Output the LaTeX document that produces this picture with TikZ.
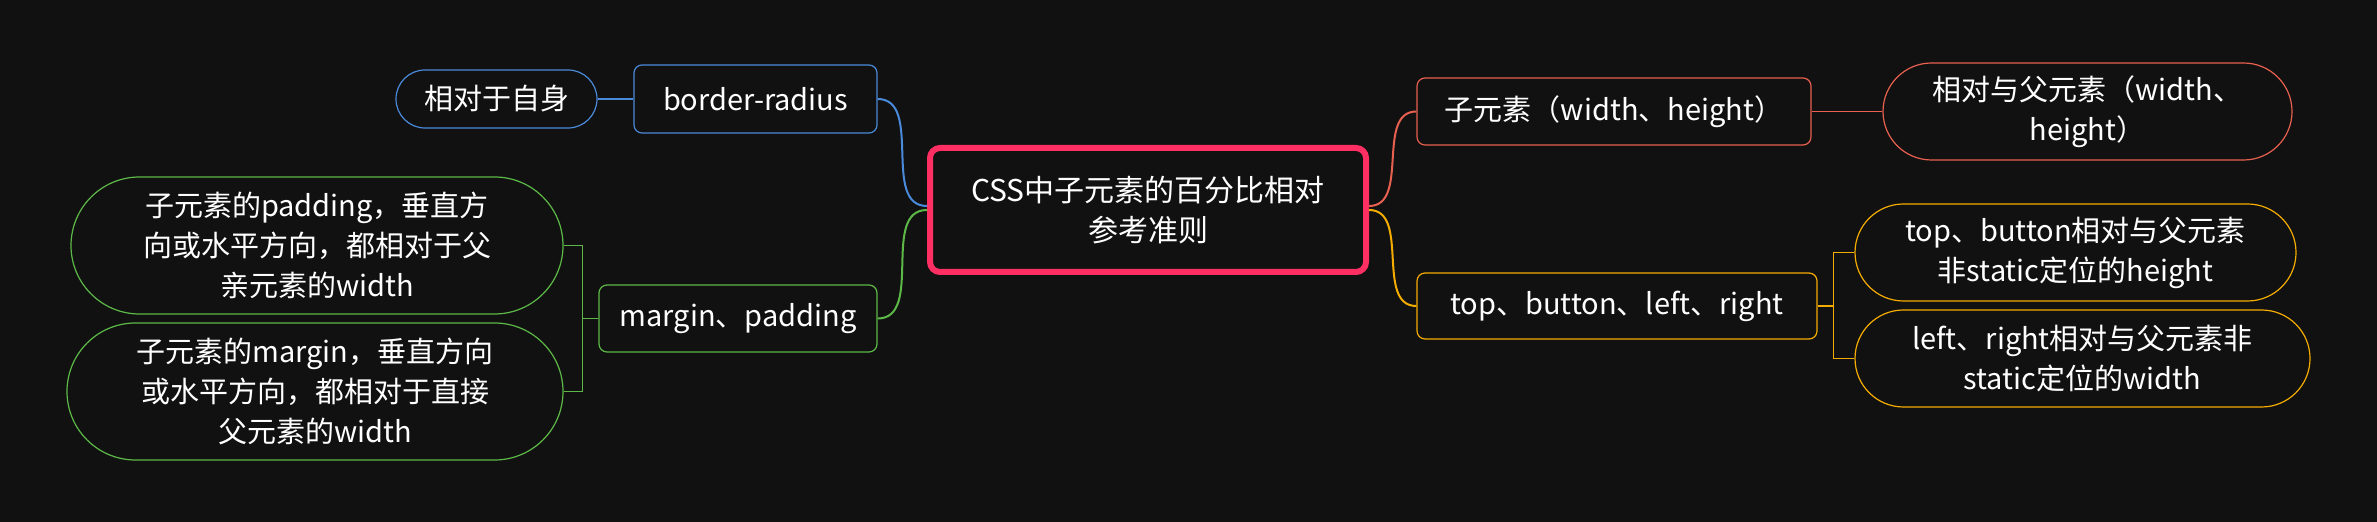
\documentclass[tikz,border=0pt]{standalone}
\usepackage{fontspec}
\setmainfont{Noto Sans CJK SC}
\usepackage{tikz}
\usetikzlibrary{shapes.misc,positioning}
\usepackage{xcolor}
\definecolor{mmbg}{RGB}{17,17,17}
\definecolor{mmroot}{RGB}{255,46,99}
\definecolor{mmblue}{RGB}{74,138,219}
\definecolor{mmgreen}{RGB}{92,185,71}
\definecolor{mmred}{RGB}{232,96,79}
\definecolor{mmorange}{RGB}{245,172,0}
\tikzstyle{topic} = [rectangle, rounded corners=4pt, draw, line width=0.6pt, fill=mmbg, text=white, align=center, inner sep=2pt, font=\fontsize{14.5pt}{20pt}\selectfont]
\tikzstyle{leaf} = [rounded rectangle, draw, line width=0.6pt, fill=mmbg, text=white, align=center, inner sep=2pt, font=\fontsize{14.5pt}{20pt}\selectfont]
\tikzstyle{link} = [line width=1pt]
\tikzstyle{bracket} = [line width=0.6pt]

\begin{document}
\begin{tikzpicture}[x=0.5pt, y=-0.5pt]
\fill[mmbg] (0,0) rectangle (2377,522);
\useasboundingbox (0,0) rectangle (2377,522);

% root
\node[rectangle, rounded corners=5pt, draw=mmroot, line width=3pt, fill=mmbg, text=white, align=center,
  minimum width=218pt, minimum height=62pt, font=\fontsize{15pt}{20pt}\selectfont] (root) at (1148,210)
  {CSS中子元素的百分比相对\\参考准则};

% border-radius
\node[topic, draw=mmblue, minimum width=121.5pt, minimum height=34pt] (br) at (755.5,99) {border-radius};
\node[leaf, draw=mmblue, minimum width=104.5pt, minimum height=29pt] (brself) at (496.5,99) {相对于自身};
\draw[link, mmblue] ([yshift=2pt]root.west) to[out=180, in=0] (br.east);
\draw[bracket, mmblue] (br.west) -- (brself.east);

% margin, padding
\node[topic, draw=mmgreen, minimum width=139pt, minimum height=33.5pt] (mp) at (738,318.5) {margin、padding};
\node[leaf, draw=mmgreen, minimum width=250pt, minimum height=68.5pt] (mp1) at (317,245.5)
  {子元素的padding，垂直方\\向或水平方向，都相对于父\\亲元素的width};
\node[leaf, draw=mmgreen, minimum width=252pt, minimum height=68.5pt] (mp2) at (315,391.5)
  {子元素的margin，垂直方向\\或水平方向，都相对于直接\\父元素的width};
\draw[link, mmgreen] ([yshift=0pt]root.west) to[out=180, in=0] (mp.east);
\draw[bracket, mmgreen] (mp.west) -- ++(-16,0) |- (mp1.east);
\draw[bracket, mmgreen] (mp.west) -- ++(-16,0) |- (mp2.east);

% width, height
\node[topic, draw=mmred, minimum width=197pt, minimum height=33.5pt] (ch) at (1614,111.5) {子元素（width、height）};
\node[leaf, draw=mmred, minimum width=208.5pt, minimum height=48.5pt] (ch1) at (2087.5,111.5)
  {相对与父元素（width、\\height）};
\draw[link, mmred] ([yshift=2pt]root.east) to[out=0, in=180] (ch.west);
\draw[bracket, mmred] (ch.east) -- (ch1.west);

% top, button, left, right
\node[topic, draw=mmorange, minimum width=200pt, minimum height=33pt] (tb) at (1617,306) {top、button、left、right};
\node[leaf, draw=mmorange, minimum width=224.5pt, minimum height=48.5pt] (tb1) at (2075.5,252.5)
  {top、button相对与父元素\\非static定位的height};
\node[leaf, draw=mmorange, minimum width=231.5pt, minimum height=48.5pt] (tb2) at (2082.5,358.5)
  {left、right相对与父元素非\\static定位的width};
\draw[link, mmorange] ([yshift=0pt]root.east) to[out=0, in=180] (tb.west);
\draw[bracket, mmorange] (tb.east) -- ++(16,0) |- (tb1.west);
\draw[bracket, mmorange] (tb.east) -- ++(16,0) |- (tb2.west);
\end{tikzpicture}
\end{document}
